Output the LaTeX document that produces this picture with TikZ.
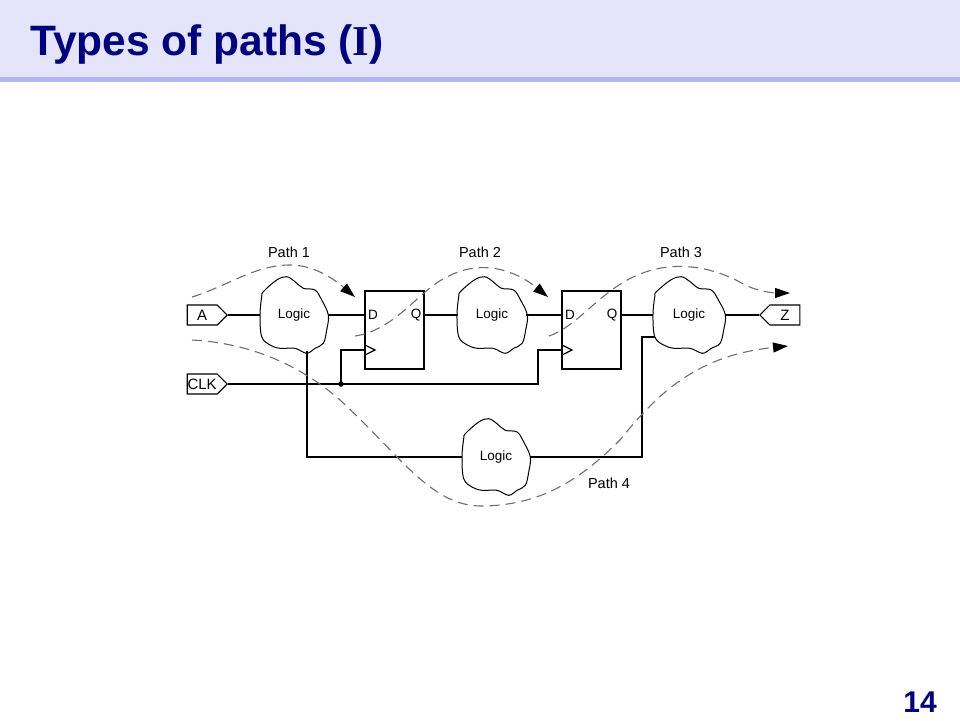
\documentclass[tikz,border=0pt]{standalone}
\usepackage{fontspec}
\setmainfont{Liberation Sans}
\newfontfamily\serifbold{Liberation Serif}
\usetikzlibrary{arrows.meta,shapes.symbols}
\definecolor{titlebg}{RGB}{228,228,250}
\definecolor{stripecol}{RGB}{180,180,240}
\definecolor{navy}{RGB}{0,0,128}
\definecolor{dashgray}{RGB}{110,110,110}
\tikzset{
  wire/.style={line width=1.2pt, black},
  pathline/.style={line width=1.1pt, dashgray, dash pattern=on 10pt off 6pt},
  pathtip/.style={-{Triangle[length=15pt,width=10pt,color=black]}},
  logic/.style={minimum width=68pt, minimum height=78pt, inner sep=0pt, font=\fontsize{13.5}{15}\selectfont},
  ffbox/.style={draw, wire, minimum width=59pt, minimum height=78pt, inner sep=0pt},
  pinlbl/.style={inner sep=0pt, font=\fontsize{13.5}{15}\selectfont},
  pathlbl/.style={inner sep=0pt, font=\fontsize{14.5}{17}\selectfont},
  iobox/.style={signal, draw, wire, signal pointer angle=90, minimum width=40pt, minimum height=20pt, inner sep=0pt, font=\fontsize{15}{17}\selectfont}
}
\newcommand{\blobshape}[3]{%
  \draw[line width=1pt, shift={(#1.center)}, xscale=#2, yscale=#3] plot[smooth cycle, tension=0.6] coordinates {(-34,0) (-32.3,-18.3) (-30.7,-23.3) (-17.3,-35) (-7.3,-38.3) (1,-33.3) (9.3,-26.7) (21,-25) (27.7,-15) (34.3,0) (32.7,15) (29.3,28.3) (21,33.3) (12.7,38.3) (1,33.3) (-14,33.3) (-24,30) (-32.3,21.7)};}
\begin{document}
\begin{tikzpicture}[x=1pt,y=-1pt]
\useasboundingbox (0,0) rectangle (960,720);
% title bar
\fill[titlebg] (0,0) rectangle (960,77);
\fill[stripecol] (0,77) rectangle (960,82);
\node[anchor=base west, inner sep=0pt, text=navy, font=\fontsize{42.5}{50}\selectfont\bfseries] (title) at (30,55) {Types of paths ({\serifbold I})};
\node[anchor=base east, inner sep=0pt, text=navy, font=\fontsize{30}{34}\selectfont\bfseries] (pagenum) at (937,712) {14};

% io boxes
\node[iobox, signal to=east, anchor=east] (A) at (228,315) {A};
\node[iobox, signal to=east, anchor=east] (CLK) at (228,384) {CLK};
\node[iobox, signal to=west, anchor=west] (Z) at (759,315) {Z};

% logic clouds
\node[logic] (L1) at (294,315) {Logic};
\node[logic] (L2) at (492,315) {Logic};
\node[logic, minimum width=72pt] (L3) at (689,315) {Logic};
\node[logic] (L4) at (496,457) {Logic};
\blobshape{L1}{1}{1}
\blobshape{L2}{1.03}{1}
\blobshape{L3}{1.06}{1}
\blobshape{L4}{1}{1}

% flip-flops
\node[ffbox] (FF1) at (394.5,330) {};
\node[ffbox] (FF2) at (591.5,330) {};
\node[pinlbl] (D1) at (373,315) {D};
\node[pinlbl] (Q1) at (416,315) {Q};
\node[pinlbl] (D2) at (570,315) {D};
\node[pinlbl] (Q2) at (612,315) {Q};
\coordinate (ck1) at (365,350);
\coordinate (ck2) at (562,350);
\draw[wire] (365,345) -- (375,350) -- (365,355);
\draw[wire] (562,345) -- (572,350) -- (562,355);

% data wires
\draw[wire] (A.east) -- (L1.west);
\draw[wire] (L1.east) -- (L1.east -| FF1.west);
\draw[wire] (FF1.east |- L2.west) -- (L2.west);
\draw[wire] (L2.east) -- (L2.east -| FF2.west);
\draw[wire] (FF2.east |- L3.west) -- (L3.west);
\draw[wire] (L3.east) -- (Z.west);

% clock wires
\coordinate (j1) at (341,384);
\coordinate (c2a) at (538,350);
\draw[wire] (CLK.east) -| (c2a) -- (ck2);
\draw[wire] (j1) |- (ck1);
\fill (j1) circle (2.8pt);

% path through Logic4
\coordinate (b1) at (307,351);
\coordinate (c3) at (642,337);
\coordinate (l3in) at (655,337);
\draw[wire] (b1) |- (L4.west);
\draw[wire] (L4.east) -| (c3) -- (l3in);

% dashed timing paths
\draw[pathline, pathtip] (192,297) .. controls (230,285) and (255,265) .. (290,265) .. controls (315,265) and (335,280) .. (355,297);
\draw[pathline, pathtip] (355,336) .. controls (395,330) and (420,290) .. (445,278) .. controls (480,258) and (515,270) .. (548,297);
\draw[pathline, pathtip] (549,336) .. controls (580,325) and (600,290) .. (640,274) .. controls (680,258) and (720,270) .. (745,285) .. controls (760,292) and (775,293) .. (790,293);
\draw[pathline, pathtip] (192,340) .. controls (250,343) and (300,365) .. (340,400) .. controls (400,455) and (430,505) .. (480,506) .. controls (540,506) and (580,480) .. (620,440) .. controls (660,390) and (700,355) .. (788,346);

% path labels
\node[pathlbl] (P1) at (289,252) {Path 1};
\node[pathlbl] (P2) at (480,252) {Path 2};
\node[pathlbl] (P3) at (681,252) {Path 3};
\node[pathlbl] (P4) at (609,483) {Path 4};
\end{tikzpicture}
\end{document}
